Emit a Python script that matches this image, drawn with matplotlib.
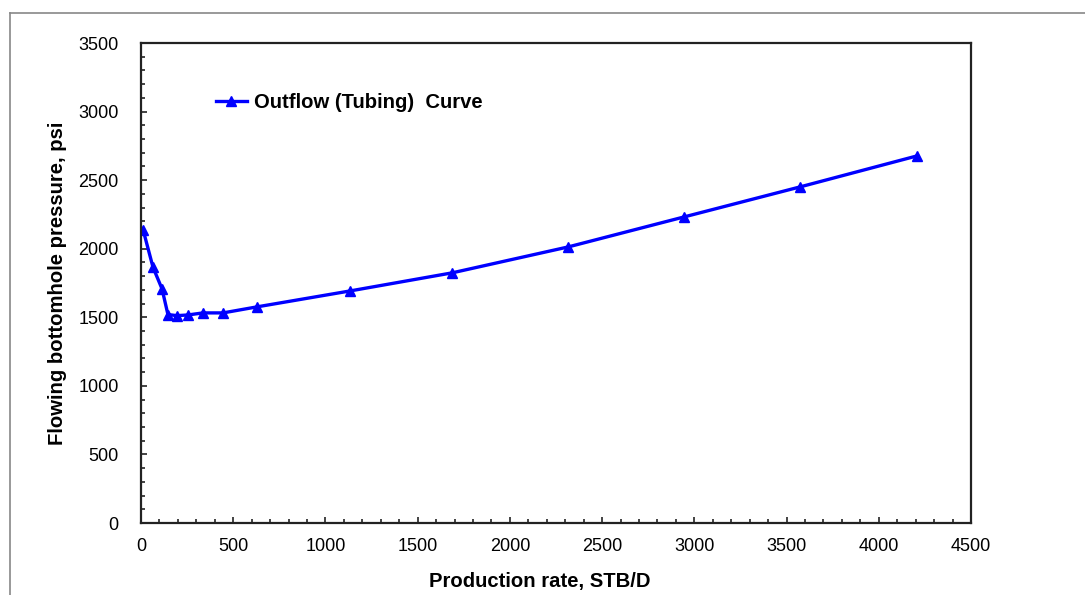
import matplotlib
matplotlib.use("Agg")
import matplotlib.pyplot as plt
from matplotlib.ticker import MultipleLocator
from matplotlib.lines import Line2D

plt.rcParams['font.family'] = ['Liberation Sans', 'DejaVu Sans']

# Data
rate = [11, 65, 114, 146, 195, 255, 336, 445, 629, 1133, 1687, 2316, 2945, 3574, 4208]
pwf = [2140, 1865, 1707, 1520, 1512, 1517, 1532, 1532, 1576, 1692, 1824, 2013, 2232, 2451, 2677]
series_label = "Outflow (Tubing)  Curve"
x_label = "Production rate, STB/D"
y_label = "Flowing bottomhole pressure, psi"
x_ticks = [0, 500, 1000, 1500, 2000, 2500, 3000, 3500, 4000, 4500]
y_ticks = [0, 500, 1000, 1500, 2000, 2500, 3000, 3500]

fig = plt.figure(figsize=(10.85, 5.95), dpi=100)
ax = fig.add_axes([141/1085, 72/595, 830/1085, 480/595])

ax.plot(rate, pwf, color='#0000ff', lw=2.4, marker='^', ms=7,
        label=series_label)

ax.set_xlim(0, 4500)
ax.set_ylim(0, 3500)
ax.set_xticks(x_ticks)
ax.set_yticks(y_ticks)
ax.xaxis.set_minor_locator(MultipleLocator(100))
ax.yaxis.set_minor_locator(MultipleLocator(100))
ax.tick_params(which='both', direction='in', width=1.2, color='#222222')
ax.tick_params(which='major', length=4, labelsize=13)
ax.tick_params(axis='y', which='major', pad=16)
ax.tick_params(axis='x', which='major', pad=11)
ax.tick_params(which='minor', length=3)
for s in ax.spines.values():
    s.set_linewidth(1.6)
    s.set_color('#222222')

ax.set_xlabel(x_label, fontsize=14.6, fontweight='bold')
ax.xaxis.set_label_coords((540 - 141) / 830, -0.102)
ax.set_ylabel(y_label, fontsize=14.6, fontweight='bold', labelpad=8)

leg = ax.legend(loc='center left', bbox_to_anchor=(0.068, 0.876), frameon=False,
                handlelength=1.55, handletextpad=0.35,
                prop={'weight': 'bold', 'size': 14.6})

# outer frame lines (top and left)
fig.add_artist(Line2D([10/1085, 1.0], [1 - 13/595, 1 - 13/595],
                      transform=fig.transFigure, color='#888888', lw=1.2))
fig.add_artist(Line2D([10/1085, 10/1085], [0, 1 - 13/595],
                      transform=fig.transFigure, color='#888888', lw=1.2))

fig.savefig('out.png', dpi=100)
